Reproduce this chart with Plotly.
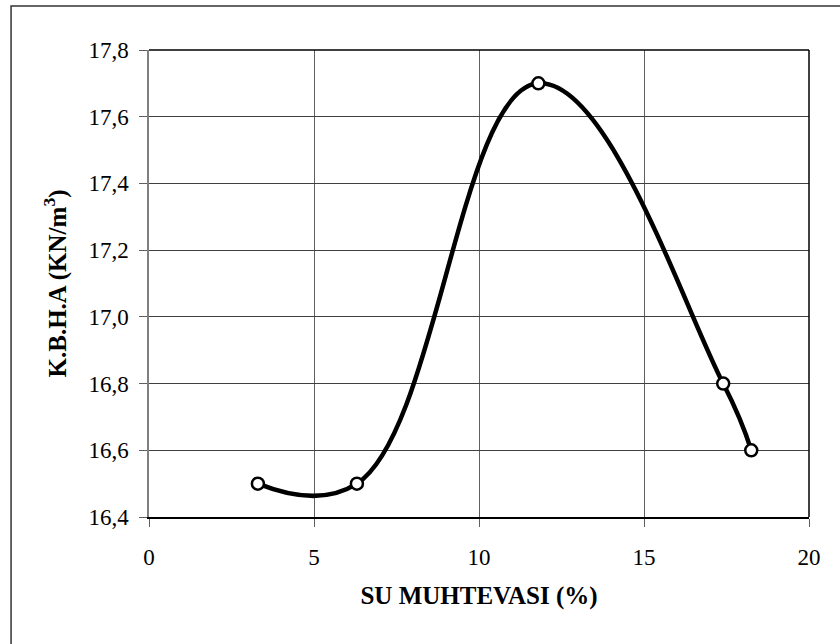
import plotly.graph_objects as go

# Data
su_muhtevasi = [3.3, 6.3, 11.8, 17.4, 18.25]       # water content (%)
kbha = [16.5, 16.5, 17.7, 16.8, 16.6]              # dry unit weight (kN/m3)
x_ticks = [0, 5, 10, 15, 20]
y_ticks = [16.4, 16.6, 16.8, 17.0, 17.2, 17.4, 17.6, 17.8]

FONT = "Liberation Serif"

fig = go.Figure()
fig.add_trace(go.Scatter(
    x=su_muhtevasi, y=kbha,
    mode="lines+markers",
    line=dict(color="black", width=4.5, shape="spline", smoothing=1.2),
    marker=dict(symbol="circle", size=12, color="white",
                line=dict(color="black", width=2.5)),
    showlegend=False,
))

fig.update_layout(
    width=840, height=644,
    margin=dict(l=149, r=31, t=50, b=127),
    paper_bgcolor="white", plot_bgcolor="white",
    font=dict(family=FONT, size=23, color="black"),
    xaxis=dict(
        range=[0, 20], tickvals=x_ticks, ticktext=[str(v) for v in x_ticks],
        tickfont=dict(family=FONT, size=23),
        showgrid=True, gridcolor="#606060", gridwidth=1,
        showline=True, linecolor="black", linewidth=1.5,
        ticks="outside", ticklen=8, tickcolor="#606060",
        ticklabelstandoff=11,
        zeroline=False,
        title=dict(text="<b>SU MUHTEVASI (%)</b>", standoff=17,
                   font=dict(family=FONT, size=25)),
    ),
    yaxis=dict(
        range=[16.4, 17.8], tickvals=y_ticks,
        ticktext=[f"{v:.1f}".replace(".", ",") for v in y_ticks],
        tickfont=dict(family=FONT, size=23),
        showgrid=True, gridcolor="#404040", gridwidth=1,
        showline=True, linecolor="#808080", linewidth=1.5,
        ticks="outside", ticklen=8, tickcolor="#606060",
        ticklabelstandoff=6,
        zeroline=False,
        title=dict(text="<b>K.B.H.A (KN/m<sup>3</sup>)</b>", standoff=15,
                   font=dict(family=FONT, size=25)),
    ),
    shapes=[
        # plot area frame (top & right edges)
        dict(type="line", xref="paper", yref="paper", x0=0, x1=1, y0=1, y1=1,
             line=dict(color="black", width=1.5), layer="above"),
        dict(type="line", xref="paper", yref="paper", x0=1, x1=1, y0=0, y1=1,
             line=dict(color="black", width=1.5), layer="above"),
        # outer chart border
        dict(type="rect", xref="paper", yref="paper",
             x0=-0.209, x1=1.1, y0=-0.4, y1=1.094,
             line=dict(color="#333333", width=1.5), layer="below"),
    ],
)

fig.write_html("out.html")
